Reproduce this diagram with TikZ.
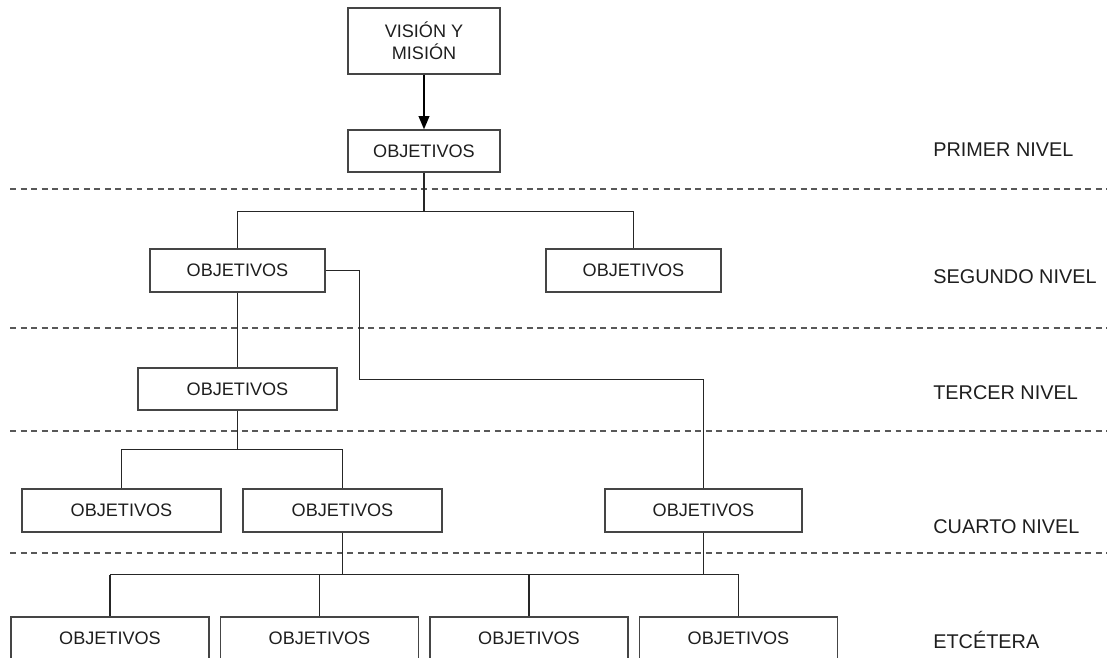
\documentclass[tikz,border=0pt]{standalone}
\usepackage{fontspec}
\setmainfont{Liberation Sans}
\usepackage{tikz}
\usetikzlibrary{arrows.meta,%
		calc,%
		positioning}

\definecolor{boxgray}{HTML}{454545}
\definecolor{txtgray}{HTML}{1E1E1E}

\tikzset{obj/.style={draw=boxgray,line width=0.75pt,inner sep=0pt,
		minimum width=3.98cm,minimum height=0.86cm,text=txtgray,
		font=\fontsize{10.3}{12.3}\selectfont},
	objwide/.style={obj,minimum width=3.5cm},
	nivel/.style={anchor=west,inner sep=0pt,text=txtgray,
		font=\fontsize{11.3}{13}\selectfont},
	corte/.style={draw=boxgray!90,line width=0.85pt,dash pattern=on 3.4pt off 2.6pt},
	rama/.style={draw=black!85,line width=0.6pt}}

\begin{document}
\begin{tikzpicture}[x=0.02cm,y=-0.02cm]
\useasboundingbox (0,0) rectangle (1112,657);
\clip (0,0) rectangle (1112,657);

% cajas
\node[obj,minimum width=3.04cm,minimum height=1.32cm,align=center] (vision) at (424,41)
	{VISIÓN Y\\MISIÓN};
\node[obj,minimum width=3.04cm,minimum height=0.84cm] (obj1) at (424,151) {OBJETIVOS};
\node[objwide] (obj2a) at (237.5,270.5) {OBJETIVOS};
\node[objwide] (obj2b) at (633.5,270.5) {OBJETIVOS};
\node[obj,minimum height=0.84cm] (obj3) at (237.5,389) {OBJETIVOS};
\node[obj] (obj4a) at (121.5,510.5) {OBJETIVOS};
\node[obj] (obj4b) at (342.5,510.5) {OBJETIVOS};
\node[obj,minimum width=3.94cm] (obj4c) at (703.5,510.5) {OBJETIVOS};
\foreach \cx/\nm in {110/a,319.5/b,529/c,738.5/d}
	\node[obj,minimum width=3.96cm] (obj5\nm) at (\cx,638.5) {OBJETIVOS};

% niveles
\node[nivel] (n1) at (933,150) {PRIMER NIVEL};
\node[nivel] (n2) at (933,277) {SEGUNDO NIVEL};
\node[nivel] (n3) at (933,393) {TERCER NIVEL};
\node[nivel] (n4) at (933,527) {CUARTO NIVEL};
\node[nivel] (n5) at (933,640) {ETCÉTERA};

\foreach \yy in {189,328,431,553}
	\draw[corte] (10,\yy) -- (1107,\yy);

% conexiones
\coordinate (bus1) at (0,211.5);
\coordinate (bus3) at (0,449.5);
\coordinate (bus4) at (0,574.5);
\coordinate (codo) at (359.5,379.5);

\draw[black,line width=1.1pt,-{Triangle[length=7.5pt,width=6pt]}] (vision) -- (obj1);
\draw[rama] (obj1.south) -- (obj1.south |- bus1) -| (obj2a.north);
\draw[rama] (obj1.south |- bus1) -| (obj2b.north);
\draw[rama] (obj2a) -- (obj3);
\draw[rama] (obj2a.east) -| (codo) -| (obj4c.north);
\draw[rama] (obj3.south) -- (obj3.south |- bus3) -| (obj4a.north);
\draw[rama] (obj3.south |- bus3) -| (obj4b.north);
\draw[rama] (obj4b.south) -- (obj4b.south |- bus4);
\draw[rama] (obj4c.south) -- (obj4c.south |- bus4);
\draw[rama] (obj5a.north |- bus4) -- (obj5d.north |- bus4);
\foreach \nm in {a,b,c,d}
	\draw[rama] (obj5\nm.north |- bus4) -- (obj5\nm.north);
\end{tikzpicture}
\end{document}
